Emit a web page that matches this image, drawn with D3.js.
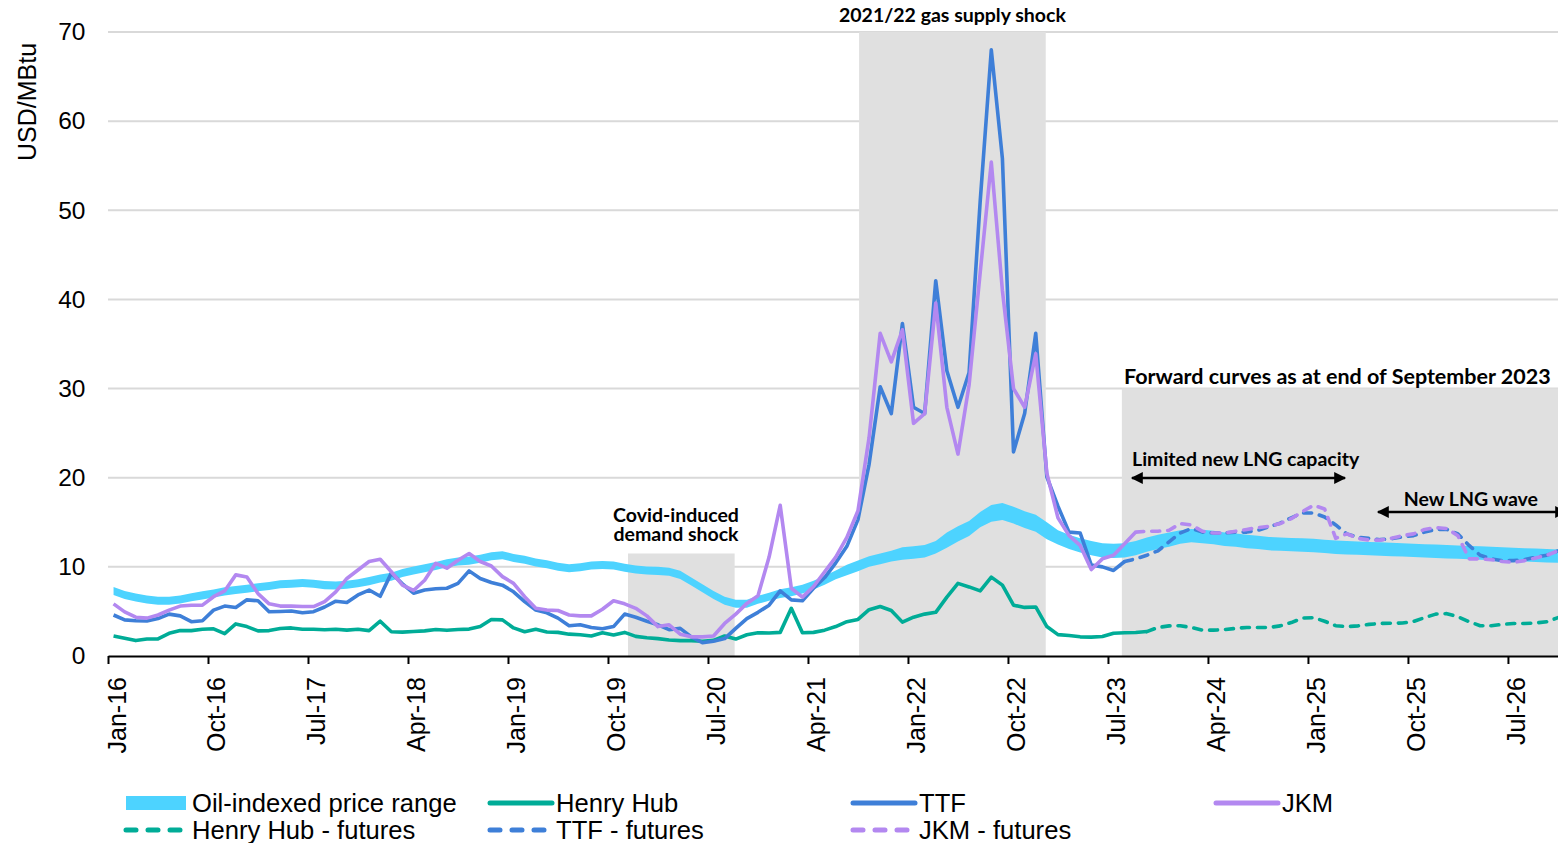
<!DOCTYPE html>
<html>
<head>
<meta charset="utf-8">
<script src="https://cdn.jsdelivr.net/npm/d3@7"></script>
<style>
  body { margin: 0; background: #fff; }
  svg { display: block; font-family: "Liberation Sans", Arial, sans-serif; }
  .note { font-family: Lato, "Noto Sans", sans-serif; font-weight: 700; font-size: 19.5px; fill: #000; }
</style>
</head>
<body>
<div id="chart"></div>
<script>
// Monthly prices in USD/MBtu, index 0 = Jan-16
var tickLabels = ["Jan-16", "Oct-16", "Jul-17", "Apr-18", "Jan-19", "Oct-19", "Jul-20", "Apr-21",
  "Jan-22", "Oct-22", "Jul-23", "Apr-24", "Jan-25", "Oct-25", "Jul-26"];
var monthCount = 131; // Jan-16 .. Nov-26

var oilLow = [6.85,6.4,6.1,5.9,5.75,5.75,5.9,6.15,6.35,6.55,
  6.8,6.95,7.1,7.25,7.4,7.6,7.65,7.75,7.65,7.5,
  7.45,7.55,7.7,7.95,8.25,8.45,8.85,9.15,9.4,9.65,
  9.95,10.15,10.25,10.45,10.75,10.85,10.55,10.35,10.05,9.85,
  9.55,9.4,9.5,9.7,9.75,9.7,9.45,9.25,9.15,9.1,
  9.0,8.65,7.9,7.15,6.4,5.75,5.4,5.4,5.85,6.2,
  6.5,6.7,7.0,7.45,8.0,8.6,9.05,9.5,10.0,10.3,
  10.6,10.8,10.9,11.05,11.5,12.15,12.85,13.45,14.45,15.05,
  15.25,14.85,14.35,13.95,13.1,12.5,12.0,11.6,11.3,11.05,
  11.0,11.05,11.3,11.7,12.0,12.25,12.6,12.75,12.65,12.55,
  12.35,12.25,12.1,12.0,11.85,11.8,11.75,11.7,11.65,11.55,
  11.45,11.4,11.35,11.3,11.25,11.2,11.15,11.1,11.05,11.0,
  10.95,10.9,10.85,10.8,10.75,10.7,10.65,10.6,10.55,10.5,10.45];

var oilHigh = [7.75,7.3,7.0,6.8,6.65,6.65,6.8,7.05,7.25,7.45,
  7.7,7.85,8.0,8.15,8.3,8.5,8.55,8.65,8.55,8.4,
  8.35,8.45,8.6,8.85,9.15,9.35,9.75,10.05,10.3,10.55,
  10.85,11.05,11.15,11.35,11.65,11.75,11.45,11.25,10.95,10.75,
  10.45,10.3,10.4,10.6,10.65,10.6,10.35,10.15,10.05,10.0,
  9.9,9.55,8.8,8.05,7.3,6.65,6.3,6.3,6.75,7.1,
  7.5,7.7,8.0,8.45,9.0,9.6,10.25,10.7,11.2,11.5,
  11.8,12.2,12.3,12.45,12.9,13.85,14.55,15.15,16.15,16.95,
  17.15,16.75,16.25,15.85,15.0,14.1,13.6,13.2,12.9,12.65,
  12.6,12.65,12.9,13.3,13.6,13.85,14.1,14.25,14.15,14.05,
  13.85,13.75,13.6,13.5,13.35,13.3,13.25,13.2,13.15,13.05,
  12.95,12.9,12.85,12.8,12.75,12.7,12.65,12.6,12.55,12.5,
  12.45,12.4,12.35,12.3,12.25,12.2,12.15,12.1,12.05,12.0,11.95];

// Henry Hub, Jan-16 .. Oct-23
var henryHub = [2.25,2.0,1.73,1.9,1.92,2.55,2.85,2.85,3.0,3.05,
  2.5,3.6,3.3,2.82,2.85,3.08,3.15,3.0,3.0,2.95,
  3.0,2.9,3.0,2.85,3.9,2.72,2.68,2.75,2.82,2.98,
  2.88,2.98,3.02,3.3,4.1,4.05,3.15,2.72,3.0,2.7,
  2.65,2.45,2.38,2.25,2.6,2.35,2.65,2.2,2.05,1.95,
  1.8,1.72,1.72,1.65,1.75,2.25,1.9,2.38,2.6,2.58,
  2.65,5.35,2.6,2.65,2.9,3.3,3.85,4.1,5.2,5.55,
  5.1,3.8,4.35,4.7,4.9,6.6,8.15,7.75,7.3,8.85,
  7.95,5.7,5.45,5.5,3.3,2.4,2.3,2.15,2.12,2.18,
  2.55,2.6,2.63,2.74];
// Henry Hub futures, Oct-23 .. Nov-26
var henryHubFut = [2.74,3.2,3.38,3.4,3.2,2.9,2.9,2.97,3.1,3.2,
  3.2,3.2,3.38,3.75,4.25,4.3,3.9,3.4,3.3,3.38,
  3.55,3.65,3.68,3.7,3.87,4.3,4.7,4.75,4.4,3.85,
  3.4,3.4,3.55,3.65,3.65,3.7,3.85,4.3];
var henryHubFutStart = 93;

// TTF, Jan-16 .. Aug-23
var ttf = [4.6,4.05,3.95,3.93,4.2,4.7,4.5,3.85,3.95,5.15,
  5.6,5.45,6.3,6.2,4.97,5.0,5.05,4.86,4.97,5.5,
  6.15,6.0,6.85,7.4,6.7,9.3,8.1,7.05,7.4,7.55,
  7.6,8.15,9.55,8.7,8.25,7.95,7.2,6.1,5.15,4.85,
  4.25,3.4,3.5,3.2,3.05,3.3,4.7,4.35,3.9,3.5,
  2.95,3.1,2.15,1.5,1.65,1.95,3.1,4.2,4.9,5.7,
  7.3,6.3,6.2,7.6,8.8,10.45,12.3,15.3,21.5,30.2,
  27.2,37.3,27.9,27.2,42.1,32.0,27.9,31.8,51.0,68.0,
  55.8,22.9,27.2,36.2,20.1,16.8,13.9,13.8,10.2,10.0,
  9.6,10.6];
// TTF futures, Aug-23 .. Nov-26
var ttfFut = [10.6,10.9,11.3,11.8,12.8,13.8,14.3,13.9,13.8,13.8,
  13.9,13.9,14.1,14.5,14.9,15.5,16.05,16.05,15.6,14.7,
  13.7,13.3,13.2,13.05,13.15,13.35,13.5,13.9,14.2,14.2,
  13.7,12.4,11.3,10.9,10.7,10.7,10.8,11.1,11.3,11.8];
var ttfFutStart = 91;

// JKM, Jan-16 .. Sep-23
var jkm = [5.85,4.95,4.35,4.25,4.6,5.15,5.6,5.7,5.7,6.65,
  7.3,9.1,8.85,7.0,5.85,5.6,5.6,5.55,5.55,6.1,
  7.2,8.7,9.65,10.6,10.85,9.45,7.95,7.35,8.5,10.4,
  9.85,10.75,11.5,10.6,10.1,8.9,8.15,6.65,5.35,5.15,
  5.1,4.6,4.5,4.5,5.25,6.2,5.85,5.35,4.5,3.3,
  3.5,2.45,2.15,2.15,2.25,3.65,4.7,5.9,6.75,11.1,
  16.9,7.6,6.6,7.8,9.45,11.1,13.3,16.3,24.5,36.2,
  33.0,36.6,26.1,27.2,39.6,27.9,22.65,30.4,43.0,55.4,
  41.0,30.0,27.9,33.9,20.5,15.5,13.5,12.4,9.7,10.9,
  11.3,12.6,13.9];
// JKM futures, Sep-23 .. Nov-26
var jkmFut = [13.9,14.0,14.0,14.1,14.85,14.7,14.0,13.8,13.8,14.0,
  14.2,14.4,14.55,14.85,15.4,16.2,16.9,16.5,13.2,13.7,
  13.2,13.0,13.0,13.2,13.5,13.7,14.2,14.4,14.3,13.5,
  10.9,10.9,10.8,10.6,10.5,10.7,11.0,11.3,11.8];
var jkmFutStart = 92;

// Shaded periods in months from Jan-16 (from, to, top value)
var shadeFrom = [46.8, 67.6, 91.25];
var shadeTo = [56.4, 84.4, 131];
var shadeTop = [11.5, 70, 30];

var yTicks = [0, 10, 20, 30, 40, 50, 60, 70];

var legendNames = ["Oil-indexed price range", "Henry Hub", "TTF", "JKM",
  "Henry Hub - futures", "TTF - futures", "JKM - futures"];

// Colours
var c_oil = "#4dd3ff";
var c_hh = "#00ac97";
var c_ttf = "#3e7fd8";
var c_jkm = "#b388f0";

var svg_width = 1558;
var svg_height = 843;

var svg = d3.select("#chart")
  .append("svg")
  .attr("width", svg_width)
  .attr("height", svg_height);

// Scales: points sit in the middle of each month
var x = d3.scaleLinear().domain([0, monthCount]).range([108, 1563.5]);
var y = d3.scaleLinear().domain([0, 70]).range([656, 32]);

// Gridlines
svg.append("g")
  .selectAll("line")
  .data(yTicks.filter(d => d > 0))
  .enter()
  .append("line")
  .attr("x1", x(0))
  .attr("x2", svg_width)
  .attr("y1", d => y(d))
  .attr("y2", d => y(d))
  .attr("stroke", "#d9d9d9")
  .attr("stroke-width", 2);

// Shaded periods
svg.append("g")
  .selectAll("rect")
  .data(shadeFrom)
  .enter()
  .append("rect")
  .attr("x", (d, i) => x(d))
  .attr("width", (d, i) => x(shadeTo[i]) - x(d))
  .attr("y", (d, i) => y(shadeTop[i]))
  .attr("height", (d, i) => y(0) - y(shadeTop[i]))
  .attr("fill", "#e0e0e0");

// Oil-indexed band
var oilArea = d3.area()
  .x((d, i) => x(i + 0.5))
  .y0((d, i) => y(oilLow[i]))
  .y1((d, i) => y(oilHigh[i]));

svg.append("path")
  .datum(oilHigh)
  .attr("d", oilArea)
  .attr("fill", c_oil);

var line = d3.line()
  .x(d => x(d[0] + 0.5))
  .y(d => y(d[1]));

function toPoints(values, start) {
  return values.map((v, i) => [start + i, v]);
}

function drawLine(values, start, colour, dashed) {
  var p = svg.append("path")
    .datum(toPoints(values, start))
    .attr("d", line)
    .attr("fill", "none")
    .attr("stroke", colour)
    .attr("stroke-width", 3.6)
    .attr("stroke-linejoin", "round");
  if (dashed) {
    p.attr("stroke-dasharray", "8,8").attr("stroke-linecap", "round");
  }
  return p;
}

drawLine(henryHub, 0, c_hh, false);
drawLine(ttf, 0, c_ttf, false);
drawLine(jkm, 0, c_jkm, false);
drawLine(henryHubFut, henryHubFutStart, c_hh, true);
drawLine(ttfFut, ttfFutStart, c_ttf, true);
drawLine(jkmFut, jkmFutStart, c_jkm, true);

// X axis
var x_axis = svg.append("g")
  .attr("transform", `translate(0, ${y(0)})`)
  .call(d3.axisBottom(x)
    .tickValues(tickLabels.map((t, i) => i * 9))
    .tickFormat((d, i) => tickLabels[i])
    .tickSize(8)
    .tickSizeOuter(0));

x_axis.select(".domain").attr("stroke", "#000").attr("stroke-width", 2);
x_axis.selectAll(".tick line").attr("stroke", "#000").attr("stroke-width", 2);
x_axis.selectAll(".tick text")
  .attr("transform", "rotate(-90)")
  .attr("x", -21)
  .attr("y", 17)
  .attr("dy", 0)
  .attr("text-anchor", "end")
  .attr("fill", "#000")
  .style("font-size", "25px")
  .style("font-family", "'Liberation Sans', Arial, sans-serif");

// Y axis labels
var y_axis = svg.append("g")
  .attr("transform", `translate(${x(0)}, 0)`)
  .call(d3.axisLeft(y).tickValues(yTicks).tickSize(0).tickPadding(22.5));

y_axis.select(".domain").remove();
y_axis.selectAll(".tick text")
  .attr("fill", "#000")
  .style("font-size", "24.5px")
  .style("font-family", "'Liberation Sans', Arial, sans-serif");

svg.append("text")
  .attr("transform", "translate(36, 102) rotate(-90)")
  .attr("text-anchor", "middle")
  .style("font-size", "25px")
  .text("USD/MBtu");

// Annotations
svg.append("text")
  .classed("note", true)
  .attr("x", (x(shadeFrom[1]) + x(shadeTo[1])) / 2)
  .attr("y", 22)
  .attr("text-anchor", "middle")
  .text("2021/22 gas supply shock");

var covid = svg.append("text")
  .classed("note", true)
  .attr("text-anchor", "middle");
covid.append("tspan").attr("x", 676).attr("y", 522).text("Covid-induced");
covid.append("tspan").attr("x", 676).attr("y", 540.5).text("demand shock");

svg.append("text")
  .classed("note", true)
  .attr("x", 1124)
  .attr("y", 384)
  .style("font-size", "21.5px")
  .text("Forward curves as at end of September 2023");

svg.append("text")
  .classed("note", true)
  .attr("x", 1132)
  .attr("y", 466)
  .text("Limited new LNG capacity");

svg.append("text")
  .classed("note", true)
  .attr("x", 1538)
  .attr("y", 506)
  .attr("text-anchor", "end")
  .text("New LNG wave");

// Arrow heads
var defs = svg.append("defs");
defs.append("marker")
  .attr("id", "arrow")
  .attr("viewBox", "0 0 10 10")
  .attr("refX", 9)
  .attr("refY", 5)
  .attr("markerUnits", "userSpaceOnUse")
  .attr("markerWidth", 13)
  .attr("markerHeight", 12)
  .attr("orient", "auto-start-reverse")
  .append("path")
  .attr("d", "M0,0 L10,5 L0,10 Z")
  .attr("fill", "#000");

svg.append("line")
  .attr("x1", 1132).attr("x2", 1345)
  .attr("y1", 478).attr("y2", 478)
  .attr("stroke", "#000")
  .attr("stroke-width", 2.5)
  .attr("marker-start", "url(#arrow)")
  .attr("marker-end", "url(#arrow)");

svg.append("line")
  .attr("x1", 1378).attr("x2", 1566)
  .attr("y1", 512).attr("y2", 512)
  .attr("stroke", "#000")
  .attr("stroke-width", 2.5)
  .attr("marker-start", "url(#arrow)")
  .attr("marker-end", "url(#arrow)");

// Legend
var legendCol = [126, 490, 853, 1216, 126, 490, 853];
var legendRow = [803, 803, 803, 803, 830, 830, 830];
var legendColour = [c_oil, c_hh, c_ttf, c_jkm, c_hh, c_ttf, c_jkm];

var legend = svg.append("g");

legendNames.forEach(function(name, i) {
  var lx = legendCol[i];
  var ly = legendRow[i];
  if (i === 0) {
    legend.append("rect")
      .attr("x", lx).attr("y", ly - 7)
      .attr("width", 60).attr("height", 14)
      .attr("fill", legendColour[i]);
  } else if (i < 4) {
    legend.append("line")
      .attr("x1", lx).attr("x2", lx + 62)
      .attr("y1", ly).attr("y2", ly)
      .attr("stroke", legendColour[i])
      .attr("stroke-width", 5)
      .attr("stroke-linecap", "round");
  } else {
    legend.append("line")
      .attr("x1", lx).attr("x2", lx + 58)
      .attr("y1", ly).attr("y2", ly)
      .attr("stroke", legendColour[i])
      .attr("stroke-width", 5)
      .attr("stroke-dasharray", "10,12")
      .attr("stroke-linecap", "round");
  }
  legend.append("text")
    .attr("x", lx + 66)
    .attr("y", ly + 9)
    .style("font-size", "25.6px")
    .attr("fill", "#000")
    .text(name);
});
</script>
</body>
</html>
